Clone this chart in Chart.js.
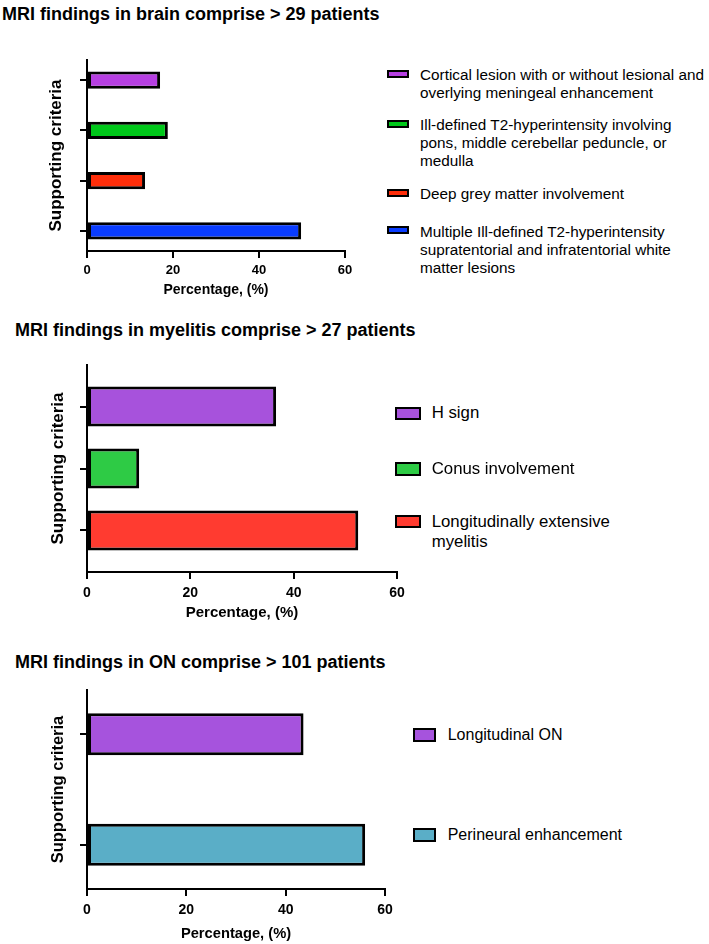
<!DOCTYPE html>
<html><head><meta charset="utf-8">
<script src="https://cdn.jsdelivr.net/npm/chart.js@4.4.0/dist/chart.umd.min.js"></script>
<style>
html,body{margin:0;padding:0;background:#fff;}
body{width:709px;height:944px;position:relative;overflow:hidden;font-family:"Liberation Sans",Arial,Helvetica,sans-serif;color:#000;}
.ttl{position:absolute;font-weight:bold;white-space:nowrap;line-height:22px;}
canvas{position:absolute;left:0;}
.leg{position:absolute;white-space:nowrap;}
.sw{position:absolute;box-sizing:border-box;border:2px solid #000;}
</style></head><body>
<div class="ttl" id="t1"></div><div class="ttl" id="t2"></div><div class="ttl" id="t3"></div>
<canvas id="c1"></canvas><canvas id="c2"></canvas><canvas id="c3"></canvas>
<script>
// ---- data ----
const titles = ["MRI findings in brain comprise > 29 patients","MRI findings in myelitis comprise > 27 patients","MRI findings in ON comprise > 101 patients"];
const xAxisTitle = "Percentage, (%)";
const yAxisTitle = "Supporting criteria";
const xTicks = [0, 20, 40, 60];

const brainLabels = [
  ["Cortical lesion with or without lesional and","overlying meningeal enhancement"],
  ["Ill-defined T2-hyperintensity involving","pons, middle cerebellar peduncle, or","medulla"],
  ["Deep grey matter involvement"],
  ["Multiple Ill-defined T2-hyperintensity","supratentorial and infratentorial white","matter lesions"]
];
const brainValues = [17.0, 18.8, 13.5, 49.8];
const brainColors = ["#b63fe2", "#00c81a", "#ff2e0a", "#0a3cff"];

const myelitisLabels = [["H sign"],["Conus involvement"],["Longitudinally extensive","myelitis"]];
const myelitisValues = [36.6, 10.1, 52.5];
const myelitisColors = ["#a752dc", "#2ecb45", "#ff3b30"];

const onLabels = [["Longitudinal ON"],["Perineural enhancement"]];
const onValues = [43.6, 56.0];
const onColors = ["#a653dd", "#5aaec7"];

// ---- layout ----
const FONT = '"Liberation Sans", Arial, Helvetica, sans-serif';
const panels = [
  {canvas:'c1', title:'t1', titleX:2, titleY:14, titleSize:18,
   labels:brainLabels, values:brainValues, colors:brainColors,
   top:40, L:87, T:60, R:345, B:251, xTitleY:290, tickY:270, yTitleX:56,
   tickSize:13, axTitleSize:14, yTitleSize:17, ymin:-0.4, ymax:3.4, bp:0.34,
   leg:{swX:387, swW:22, swH:8, textX:420, size:15.3, lh:18.3, centers:[75,125,194,231.7], swOff:-1.5}},
  {canvas:'c2', title:'t2', titleX:15, titleY:330, titleSize:18,
   labels:myelitisLabels, values:myelitisValues, colors:myelitisColors,
   top:350, L:87, T:365, R:397, B:572, xTitleY:613, tickY:593, yTitleX:58,
   tickSize:14, axTitleSize:15, yTitleSize:17, ymin:-0.67, ymax:2.67, bp:0.645,
   leg:{swX:395, swW:26, swH:13.5, textX:431.7, size:16.8, lh:20, centers:[413.3,469,521.7], swOff:0}},
  {canvas:'c3', title:'t3', titleX:15, titleY:662, titleSize:18,
   labels:onLabels, values:onValues, colors:onColors,
   top:680, L:87, T:690, R:385, B:889, xTitleY:934, tickY:910, yTitleX:58,
   tickSize:14, axTitleSize:14.7, yTitleSize:16.5, ymin:-0.4, ymax:1.4, bp:0.38,
   leg:{swX:412.7, swW:23.3, swH:13.5, textX:447.7, size:16, lh:20, centers:[735,835], swOff:0}}
];

panels.forEach((p, idx) => {
  const t = document.getElementById(p.title);
  t.textContent = titles[idx];
  t.style.left = p.titleX + 'px';
  t.style.top = (p.titleY - 11) + 'px';
  t.style.fontSize = p.titleSize + 'px';

  // legend (HTML, real text)
  p.labels.forEach((lines, i) => {
    const d = document.createElement('div');
    d.className = 'leg';
    d.style.left = p.leg.textX + 'px';
    d.style.top = (p.leg.centers[i] - p.leg.lh / 2) + 'px';
    d.style.fontSize = p.leg.size + 'px';
    d.style.lineHeight = p.leg.lh + 'px';
    d.innerHTML = lines.map(s => s.replace(/&/g,'&amp;').replace(/</g,'&lt;')).join('<br>');
    document.body.appendChild(d);
    const s = document.createElement('div');
    s.className = 'sw';
    s.style.left = p.leg.swX + 'px';
    s.style.width = p.leg.swW + 'px';
    s.style.height = p.leg.swH + 'px';
    s.style.top = (p.leg.centers[i] + p.leg.swOff - p.leg.swH / 2) + 'px';
    s.style.background = p.colors[i];
    document.body.appendChild(s);
  });

  const yLH = p.yTitleSize * 1.2;
  const xLH = p.axTitleSize * 1.2;
  const tLH = p.tickSize * 1.2;
  const padLeft = p.yTitleX - yLH / 2;
  const bottomPage = Math.ceil(p.xTitleY + xLH / 2);
  const H = bottomPage - p.top;
  const W = p.R + 30;
  const xTitlePadBottom = bottomPage - (p.xTitleY + xLH / 2);
  const tickPad = p.tickY - tLH / 2 - p.B - 7;

  const c = document.getElementById(p.canvas);
  c.style.top = p.top + 'px';
  c.width = W; c.height = H;
  c.style.width = W + 'px'; c.style.height = H + 'px';

  new Chart(c, {
    type: 'bar',
    data: {
      datasets: [{
        data: p.values.map((v, i) => ({x: v, y: i})),
        backgroundColor: p.colors,
        borderColor: '#000',
        borderWidth: 3,
        borderSkipped: false,
        categoryPercentage: 1,
        barPercentage: p.bp
      }]
    },
    options: {
      responsive: false,
      animation: false,
      devicePixelRatio: 1,
      indexAxis: 'y',
      layout: {padding: {top: p.T - p.top, right: W - p.R, left: padLeft, bottom: 0}},
      plugins: {legend: {display: false}, tooltip: {enabled: false}},
      scales: {
        x: {
          type: 'linear', position: 'bottom', min: xTicks[0], max: xTicks[xTicks.length - 1],
          offset: false,
          afterBuildTicks: s => { s.ticks = xTicks.map(v => ({value: v})); },
          ticks: {color: '#000', padding: tickPad, font: {family: FONT, size: p.tickSize, weight: 'bold'}, maxRotation: 0},
          grid: {offset: false, drawOnChartArea: false, drawTicks: true, tickLength: 7, color: '#000', lineWidth: 2},
          border: {display: true, color: '#000', width: 2},
          title: {display: true, text: xAxisTitle, color: '#000', padding: {top: 0, bottom: xTitlePadBottom},
                  font: {family: FONT, size: p.axTitleSize, weight: 'bold'}},
          afterFit: s => { s.height = H - (p.B - p.top); }
        },
        y: {
          type: 'linear', position: 'left', reverse: true, min: p.ymin, max: p.ymax,
          offset: false, bounds: 'data',
          afterBuildTicks: s => { s.ticks = p.values.map((v, i) => ({value: i})); },
          ticks: {display: false},
          grid: {offset: false, drawOnChartArea: false, drawTicks: true, tickLength: 7, color: '#000', lineWidth: 2},
          border: {display: true, color: '#000', width: 2},
          title: {display: true, text: yAxisTitle, color: '#000', padding: {top: 0, bottom: 0},
                  font: {family: FONT, size: p.yTitleSize, weight: 'bold'}},
          afterFit: s => { s.width = p.L - padLeft; }
        }
      }
    }
  });
});
</script>
</body></html>
